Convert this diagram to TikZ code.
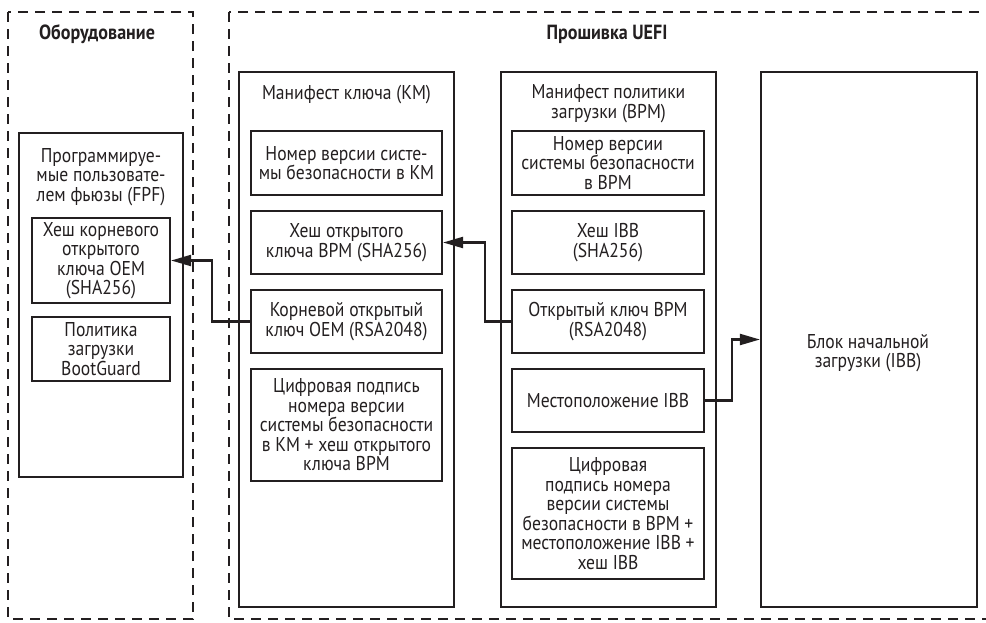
\documentclass[tikz,border=0pt]{standalone}
\usepackage{fontspec}
\setmainfont[FakeStretch=0.88]{PT Sans}
\usetikzlibrary{arrows.meta}
\definecolor{ink}{HTML}{231F20}
\begin{document}
\begin{tikzpicture}[x=1pt,y=-1pt,
  every node/.style={text=ink, font=\fontsize{20}{19.5}\selectfont},
  box/.style={draw=ink, line width=2.2pt, inner sep=0pt, align=center},
  grp/.style={draw=ink, line width=2pt, dash pattern=on 10pt off 7pt},
  ttl/.style={font=\fontsize{20.5}{19.5}\selectfont\bfseries},
  conn/.style={draw=ink, line width=2.2pt, -{Triangle[length=20pt,width=11pt]}}]
\useasboundingbox (0,0) rectangle (986,622);
\clip (0,0) rectangle (986,622);
% groups
\draw[grp] (8,12) rectangle (193,619);
\draw[grp] (229,12) rectangle (1000,619);
\node[ttl] (thw) at (97,34) {Оборудование};
\node[ttl] (tfw) at (607,34) {Прошивка UEFI};
% FPF
\node[box, minimum width=164pt, minimum height=344pt] (fpf) at (101,305) {};
\node[align=center] (fpft) at (101,177) {Программируе-\\мые пользовате-\\лем фьюзы (FPF)};
\node[box, minimum width=138pt, minimum height=85pt] (fpfhash) at (101,260.5) {Хеш корневого\\открытого\\ключа OEM\\(SHA256)};
\node[box, minimum width=138pt, minimum height=64pt] (fpfpol) at (101,349) {Политика\\загрузки\\BootGuard};
% KM
\node[box, minimum width=215pt, minimum height=535pt] (km) at (346.5,339.5) {};
\node (kmt) at (346.5,95) {Манифест ключа (KM)};
\node[box, minimum width=191pt, minimum height=64pt] (km1) at (346.5,163) {Номер версии систе-\\мы безопасности в KM};
\node[box, minimum width=191pt, minimum height=63pt] (km2) at (346.5,242.5) {Хеш открытого\\ключа BPM (SHA256)};
\node[box, minimum width=191pt, minimum height=63pt] (km3) at (346.5,321.5) {Корневой открытый\\ключ OEM (RSA2048)};
\node[box, minimum width=191pt, minimum height=112pt] (km4) at (346.5,425) {Цифровая подпись\\номера версии\\системы безопасности\\в KM + хеш открытого\\ключа BPM};
% BPM
\node[box, minimum width=215pt, minimum height=535pt] (bpm) at (608.5,339.5) {};
\node[align=center] (bpmt) at (608.5,103.5) {Манифест политики\\загрузки (BPM)};
\node[box, minimum width=192pt, minimum height=64pt] (bpm1) at (608,163) {Номер версии\\системы безопасности\\в BPM};
\node[box, minimum width=192pt, minimum height=63pt] (bpm2) at (608,242.5) {Хеш IBB\\(SHA256)};
\node[box, minimum width=192pt, minimum height=63pt] (bpm3) at (608,321.5) {Открытый ключ BPM\\(RSA2048)};
\node[box, minimum width=192pt, minimum height=63pt] (bpm4) at (608,400.5) {Местоположение IBB};
\node[box, minimum width=192pt, minimum height=131pt] (bpm5) at (608,513.5) {Цифровая\\подпись номера\\версии системы\\безопасности в BPM +\\местоположение IBB +\\хеш IBB};
% IBB
\node[box, minimum width=216pt, minimum height=535pt] (ibb) at (869,339.5) {};
\node[align=center] (ibbt) at (868,353) {Блок начальной\\загрузки (IBB)};
% connectors
\draw[conn] (km3.west) -- ++(-38,0) |- (fpfhash.east);
\draw[conn] (bpm3.west) -- ++(-26,0) |- (km2.east);
\draw[conn] (bpm4.east) -- ++(27,0) |- (ibb.west);
\end{tikzpicture}
\end{document}
